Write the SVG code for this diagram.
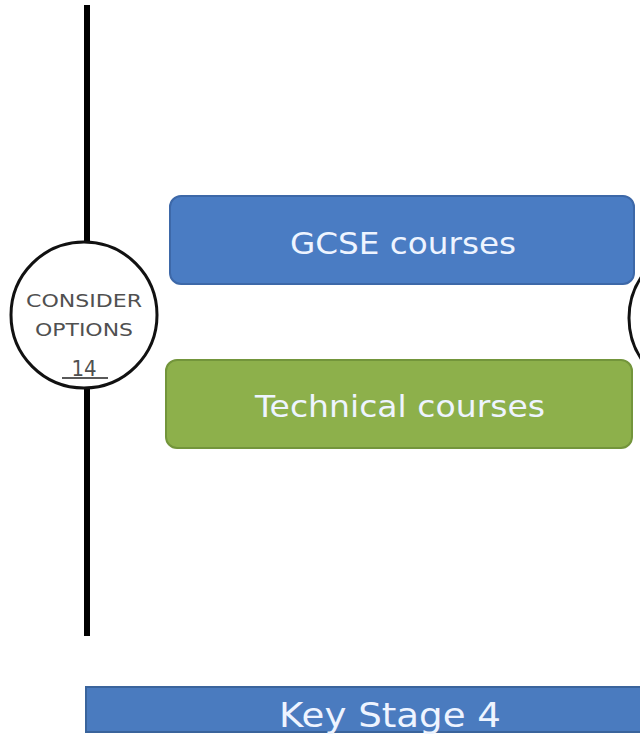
<svg xmlns="http://www.w3.org/2000/svg" width="640" height="735" viewBox="0 0 640 735">
<style>
.lbl{font-family:"DejaVu Sans","Liberation Sans",sans-serif;fill:#eef4ff;text-anchor:middle}
.ctxt{font-family:"DejaVu Sans Condensed","DejaVu Sans",sans-serif;fill:#505050;text-anchor:middle}
.ring{fill:#fff;stroke:#111;stroke-width:3}
</style>
<rect width="640" height="735" fill="#fff"/>
<g id="connectors">
<line x1="87" y1="5" x2="87" y2="636" stroke="#000" stroke-width="6"/>
</g>
<g id="consider-options">
<circle class="ring" cx="84" cy="315" r="73"/>
<text class="ctxt" x="84" y="307" font-size="18" textLength="116" lengthAdjust="spacingAndGlyphs">CONSIDER</text>
<text class="ctxt" x="84" y="336" font-size="18" textLength="98" lengthAdjust="spacingAndGlyphs">OPTIONS</text>
<text class="ctxt" x="84" y="376" font-size="22" fill="#333">14</text>
<line x1="62" y1="378" x2="108" y2="378" stroke="#222" stroke-width="1.5"/>
</g>
<g id="next-circle">
<circle class="ring" cx="703" cy="318" r="74"/>
</g>
<g id="gcse">
<rect x="170" y="196" width="464" height="88" rx="11" fill="#4a7cc3" stroke="#3d68a8" stroke-width="2"/>
<text class="lbl" x="403" y="254" font-size="30" textLength="226" lengthAdjust="spacingAndGlyphs">GCSE courses</text>
</g>
<g id="technical">
<rect x="166" y="360" width="466" height="88" rx="11" fill="#8db04b" stroke="#73953b" stroke-width="2"/>
<text class="lbl" x="400" y="417" font-size="30" fill="#f4f8e8" textLength="290" lengthAdjust="spacingAndGlyphs">Technical courses</text>
</g>
<g id="key-stage-4">
<rect x="86" y="687" width="570" height="45" fill="#4a7bbf" stroke="#3a649c" stroke-width="2"/>
<text class="lbl" x="390" y="727" font-size="34" textLength="222" lengthAdjust="spacingAndGlyphs">Key Stage 4</text>
</g>
</svg>
